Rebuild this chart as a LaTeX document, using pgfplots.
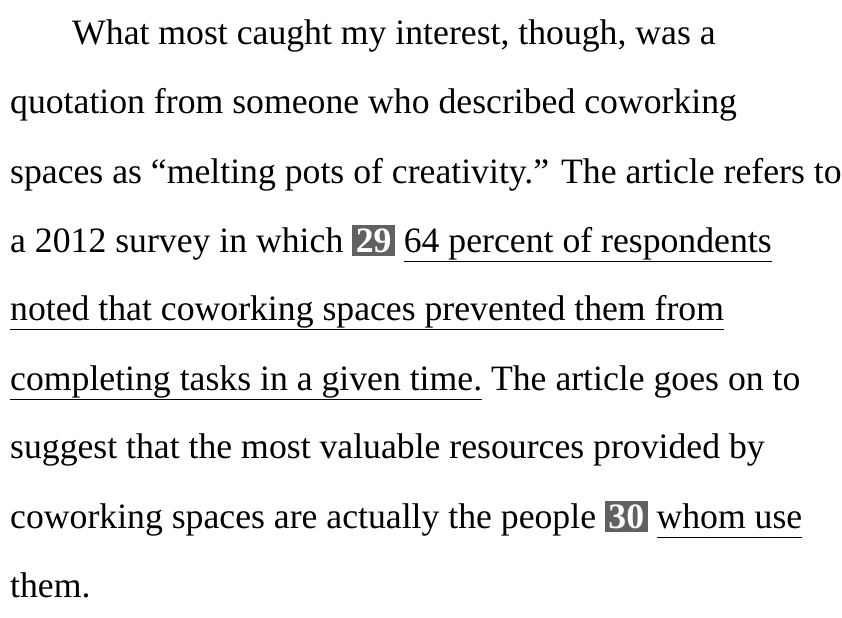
\documentclass[border=0pt]{standalone}
\usepackage{pgfplots}
\pgfplotsset{compat=1.18}
\usepackage{fontspec}
\setmainfont{Liberation Serif}
\newcommand{\bx}[1]{\setlength{\fboxsep}{3.5bp}\colorbox{black!62}{\textcolor{white}{\textbf{#1}}}}
\newcommand{\ul}[1]{\underline{\smash{#1}\vphantom{g}}}
\begin{document}
\begin{tikzpicture}
\begin{axis}[width=842bp,height=618bp,scale only axis,xmin=0,xmax=842,ymin=0,ymax=618,y dir=reverse,axis lines=none,clip=false,
  nodes={anchor=base west,inner sep=0pt,font=\fontsize{35.7bp}{38bp}\selectfont}]
\addplot[draw=none] coordinates {(0,0) (842,618)};
\node at (axis cs:72,45) {What most caught my interest, though, was a};
\node at (axis cs:10,113) {quotation from someone who described coworking};
\node at (axis cs:10,183) {spaces as “melting pots of creativity.” The article refers to};
\node at (axis cs:10,252) {a 2012 survey in which \bx{29} \ul{64 percent of respondents}};
\node at (axis cs:10,320) {\ul{noted that coworking spaces prevented them from}};
\node at (axis cs:10,390) {\ul{completing tasks in a given time.} The article goes on to};
\node at (axis cs:10,458) {suggest that the most valuable resources provided by};
\node at (axis cs:10,528) {coworking spaces are actually the people \bx{30} \ul{whom use}};
\node at (axis cs:10,597) {them.};
\end{axis}
\end{tikzpicture}
\end{document}
